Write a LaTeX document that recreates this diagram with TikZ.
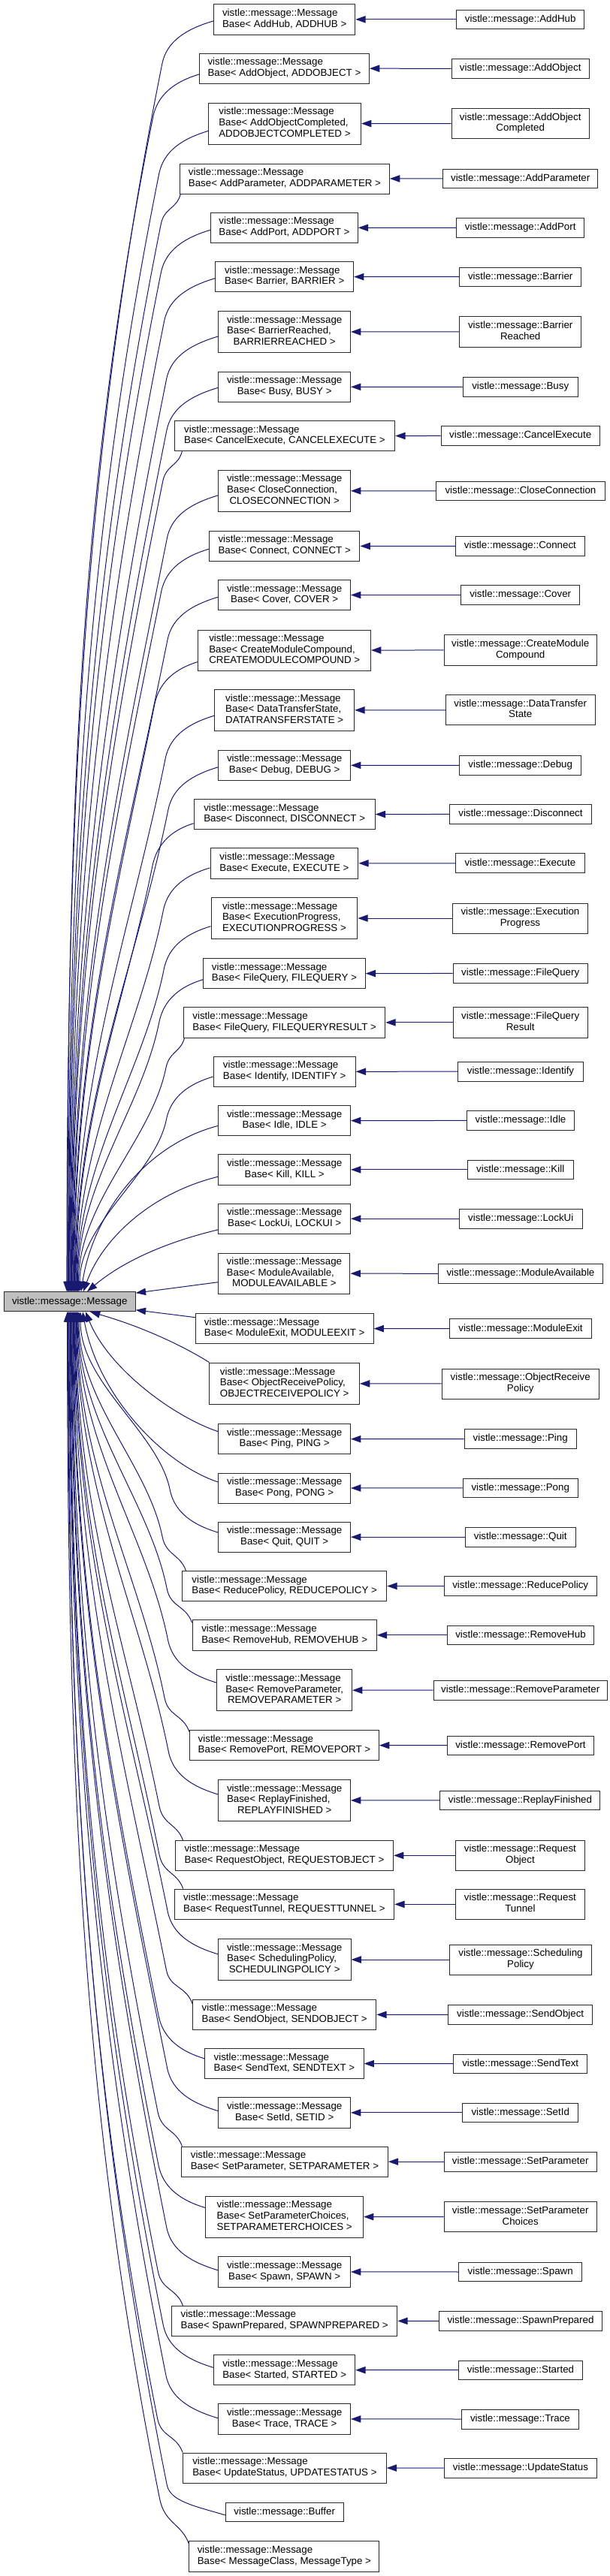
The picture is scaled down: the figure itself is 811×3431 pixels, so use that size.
\documentclass[tikz,border=0pt]{standalone}
\usepackage{fontspec}
\setmainfont{Liberation Sans}
\usetikzlibrary{arrows.meta,calc}
\definecolor{edgecol}{RGB}{25,25,112}
\definecolor{bordercol}{RGB}{40,40,40}
\definecolor{msgfill}{RGB}{191,191,191}
\newcommand\twol[2]{\begin{tabular}{@{}l@{}}#1\\\multicolumn{1}{@{}c@{}}{#2}\end{tabular}}
\newcommand\mbl[1]{\twol{vistle::message::Message}{Base< #1 >}}
\newcommand\mbt[2]{\twol{vistle::message::Message\\Base< #1,}{#2 >}}
\newcommand\bx[7][]{\node[cbox,#1,minimum width={(#4-#3)/1.925*0.75pt},minimum height={(#6-#5)*0.75pt}] (#2) at ({(#3+#4)/3.85},{(#5+#6)/2}) {#7};}
\newcommand\faredge[8]{%
 \draw[inh] let \p1=(#4), \p2=([xshift={(#3-92.75)*0.75pt}]msg.#1),
   \p3=({\x1-#5*(\x1-\x2)},{\y1-(#2)*#6*0.75pt})
 in (\p2) .. controls (\x2,{\y2+0.4*(\y3-\y2)}) and ({\x3-0.064*abs(\y3-\y2)},{\y3-0.32*(\y3-\y2)}) .. (\p3)
 .. controls ({\x3+0.11*#6*0.75pt},{\y3+(#2)*0.55*#6*0.75pt}) and ({\x1-#7*(\x1-\x3)},{\y1-(#2)*#8*(\x1-\x3)}) .. (\p1);}
\newcommand\farA[6]{\faredge{north}{1}{#1}{#2}{#3}{#4}{#5}{#6}}
\newcommand\farB[6]{\faredge{south}{-1}{#1}{#2}{#3}{#4}{#5}{#6}}
\newcommand\nearedge[7]{%
 \draw[inh] let \p1=(#3), \p2=([xshift={(#2-92.75)*0.75pt}]msg.#1) in (\p2) .. controls ({\x2+(#4)*0.75pt},{\y2-(#5)*0.75pt}) and ({\x1+(#6)*0.75pt},{\y1-(#7)*0.75pt}) .. (\p1);}
\begin{document}
\begin{tikzpicture}[x=0.75pt,y=-0.75pt,
  cbox/.style={draw=bordercol,line width=0.75pt,fill=white,inner sep=0pt,font=\fontsize{10}{11}\selectfont,text=black},
  inh/.style={draw=edgecol,line width=0.75pt,{Triangle[length=10pt,width=7pt,fill=edgecol]}-}]
\fill[white] (0,0) rectangle (811,3431);
\useasboundingbox (0,0) rectangle (811,3431);
% base node
\bx[fill=msgfill]{msg}{10}{347}{1720.7}{1746.7}{vistle::message::Message}
% middle column
\bx{mb1}{548}{910}{5.7}{46}{\mbl{AddHub, ADDHUB}}
\bx{mb2}{511}{946}{71}{111}{\mbl{AddObject, ADDOBJECT}}
\bx{mb3}{534}{925}{137}{192}{\mbt{AddObjectCompleted}{ADDOBJECTCOMPLETED}}
\bx{mb4}{461}{998}{218}{258}{\mbl{AddParameter, ADDPARAMETER}}
\bx{mb5}{540}{917}{283.3}{323.3}{\mbl{AddPort, ADDPORT}}
\bx{mb6}{552}{906}{348.7}{388.7}{\mbl{Barrier, BARRIER}}
\bx{mb7}{560}{898}{414.7}{469.3}{\mbt{BarrierReached}{BARRIERREACHED}}
\bx{mb8}{560}{898}{495.3}{535.3}{\mbl{Busy, BUSY}}
\bx{mb9}{447}{1012}{560.7}{600.7}{\mbl{CancelExecute, CANCELEXECUTE}}
\bx{mb10}{560}{898}{626.4}{681}{\mbt{CloseConnection}{CLOSECONNECTION}}
\bx{mb11}{536}{922}{707.3}{747.3}{\mbl{Connect, CONNECT}}
\bx{mb12}{560}{898}{772.3}{812.7}{\mbl{Cover, COVER}}
\bx{mb13}{508}{950}{839}{893.3}{\mbt{CreateModuleCompound}{CREATEMODULECOMPOUND}}
\bx{mb14}{550}{908}{918.7}{973}{\mbt{DataTransferState}{DATATRANSFERSTATE}}
\bx{mb15}{560}{898}{999.3}{1039.3}{\mbl{Debug, DEBUG}}
\bx{mb16}{497}{961}{1064.7}{1104.7}{\mbl{Disconnect, DISCONNECT}}
\bx{mb17}{539}{918}{1129.7}{1170}{\mbl{Execute, EXECUTE}}
\bx{mb18}{541}{916}{1195.7}{1250.3}{\mbt{ExecutionProgress}{EXECUTIONPROGRESS}}
\bx{mb19}{521}{936}{1276.7}{1316.7}{\mbl{FileQuery, FILEQUERY}}
\bx{mb20}{471}{987}{1341.7}{1382}{\mbl{FileQuery, FILEQUERYRESULT}}
\bx{mb21}{547}{911}{1407.3}{1447.3}{\mbl{Identify, IDENTIFY}}
\bx{mb22}{560}{898}{1472.7}{1512.7}{\mbl{Idle, IDLE}}
\bx{mb23}{560}{898}{1537.7}{1578}{\mbl{Kill, KILL}}
\bx{mb24}{560}{898}{1603}{1643.3}{\mbl{LockUi, LOCKUI}}
\bx{mb25}{560}{897}{1669}{1723.3}{\mbt{ModuleAvailable}{MODULEAVAILABLE}}
\bx{mb26}{501}{957}{1749.3}{1789.7}{\mbl{ModuleExit, MODULEEXIT}}
\bx{mb27}{537}{921}{1815}{1870.7}{\mbt{ObjectReceivePolicy}{OBJECTRECEIVEPOLICY}}
\bx{mb28}{560}{898}{1896.7}{1936.7}{\mbl{Ping, PING}}
\bx{mb29}{560}{898}{1962}{2002}{\mbl{Pong, PONG}}
\bx{mb30}{560}{898}{2027}{2067.3}{\mbl{Quit, QUIT}}
\bx{mb31}{467}{991}{2092.3}{2132.7}{\mbl{ReducePolicy, REDUCEPOLICY}}
\bx{mb32}{493}{965}{2157.7}{2198}{\mbl{RemoveHub, REMOVEHUB}}
\bx{mb33}{556}{902}{2223.7}{2278.7}{\mbt{RemoveParameter}{REMOVEPARAMETER}}
\bx{mb34}{486}{971}{2304.3}{2344.7}{\mbl{RemovePort, REMOVEPORT}}
\bx{mb35}{560}{898}{2370.7}{2425.3}{\mbt{ReplayFinished}{REPLAYFINISHED}}
\bx{mb36}{449}{1008}{2451.3}{2491.3}{\mbl{RequestObject, REQUESTOBJECT}}
\bx{mb37}{447}{1010}{2516}{2556.7}{\mbl{RequestTunnel, REQUESTTUNNEL}}
\bx{mb38}{559}{899}{2582.7}{2637.3}{\mbt{SchedulingPolicy}{SCHEDULINGPOLICY}}
\bx{mb39}{494}{964}{2663.3}{2703.3}{\mbl{SendObject, SENDOBJECT}}
\bx{mb40}{525}{932}{2728.3}{2768.7}{\mbl{SendText, SENDTEXT}}
\bx{mb41}{560}{898}{2793.7}{2834}{\mbl{SetId, SETID}}
\bx{mb42}{465}{994}{2859}{2899.3}{\mbl{SetParameter, SETPARAMETER}}
\bx{mb43}{527}{931}{2925}{2980}{\mbt{SetParameterChoices}{SETPARAMETERCHOICES}}
\bx{mb44}{560}{898}{3005.7}{3046}{\mbl{Spawn, SPAWN}}
\bx{mb45}{440}{1018}{3071.3}{3111.3}{\mbl{SpawnPrepared, SPAWNPREPARED}}
\bx{mb46}{548}{910}{3136.7}{3176.7}{\mbl{Started, STARTED}}
\bx{mb47}{560}{898}{3201.7}{3242}{\mbl{Trace, TRACE}}
\bx{mb48}{469}{990}{3267}{3307}{\mbl{UpdateStatus, UPDATESTATUS}}
\bx{mb49}{578}{880}{3333}{3358.7}{vistle::message::Buffer}
\bx{mb50}{485}{972}{3384.7}{3425}{\mbl{MessageClass, MessageType}}
% right column
\bx{r1}{1170}{1497}{13}{38.7}{vistle::message::AddHub}
\bx{r2}{1157}{1510}{78.7}{104.3}{vistle::message::AddObject}
\bx{r3}{1157}{1510}{144.7}{184.7}{\twol{vistle::message::AddObject}{Completed}}
\bx{r4}{1135}{1532}{225}{250.7}{vistle::message::AddParameter}
\bx{r5}{1170}{1497}{290.7}{316}{vistle::message::AddPort}
\bx{r6}{1178}{1489}{356}{381.3}{vistle::message::Barrier}
\bx{r7}{1178}{1489}{421.7}{462}{\twol{vistle::message::Barrier}{Reached}}
\bx{r8}{1186}{1481}{502.7}{528}{vistle::message::Busy}
\bx{r9}{1130}{1537}{567.7}{593}{vistle::message::CancelExecute}
\bx{r10}{1118}{1550}{641.3}{666.7}{vistle::message::CloseConnection}
\bx{r11}{1168}{1498}{714.7}{740}{vistle::message::Connect}
\bx{r12}{1181}{1486}{779.7}{805.3}{vistle::message::Cover}
\bx{r13}{1138}{1529}{845.7}{886}{\twol{vistle::message::CreateModule}{Compound}}
\bx{r14}{1142}{1525}{925.7}{965.7}{\twol{vistle::message::DataTransfer}{State}}
\bx{r15}{1178}{1489}{1006.7}{1032}{vistle::message::Debug}
\bx{r16}{1152}{1516}{1071.7}{1097}{vistle::message::Disconnect}
\bx{r17}{1168}{1498}{1136.7}{1162.7}{vistle::message::Execute}
\bx{r18}{1159}{1507}{1203}{1243}{\twol{vistle::message::Execution}{Progress}}
\bx{r19}{1161}{1506}{1283.7}{1309}{vistle::message::FileQuery}
\bx{r20}{1161}{1506}{1341.7}{1382}{\twol{vistle::message::FileQuery}{Result}}
\bx{r21}{1174}{1494}{1414.3}{1440}{vistle::message::Identify}
\bx{r22}{1196}{1472}{1479.7}{1505}{vistle::message::Idle}
\bx{r23}{1198}{1469}{1545}{1570.7}{vistle::message::Kill}
\bx{r24}{1177}{1492}{1610.3}{1636}{vistle::message::LockUi}
\bx{r25}{1123}{1545}{1683.3}{1709.3}{vistle::message::ModuleAvailable}
\bx{r26}{1153}{1515}{1756.7}{1782.7}{vistle::message::ModuleExit}
\bx{r27}{1132}{1535}{1823}{1863}{\twol{vistle::message::ObjectReceive}{Policy}}
\bx{r28}{1190}{1477}{1903.7}{1929.3}{vistle::message::Ping}
\bx{r29}{1186}{1481}{1969}{1994.7}{vistle::message::Pong}
\bx{r30}{1192}{1475}{2034.3}{2060}{vistle::message::Quit}
\bx{r31}{1138}{1529}{2099.7}{2125.3}{vistle::message::ReducePolicy}
\bx{r32}{1146}{1522}{2165}{2190.7}{vistle::message::RemoveHub}
\bx{r33}{1111}{1556}{2238.3}{2264}{vistle::message::RemoveParameter}
\bx{r34}{1146}{1522}{2312.3}{2337.3}{vistle::message::RemovePort}
\bx{r35}{1128}{1538}{2385}{2410.3}{vistle::message::ReplayFinished}
\bx{r36}{1168}{1498}{2451.3}{2491.3}{\twol{vistle::message::Request}{Object}}
\bx{r37}{1168}{1498}{2516}{2556.7}{\twol{vistle::message::Request}{Tunnel}}
\bx{r38}{1153}{1515}{2590}{2630}{\twol{vistle::message::Scheduling}{Policy}}
\bx{r39}{1149}{1518}{2670.7}{2696}{vistle::message::SendObject}
\bx{r40}{1162}{1505}{2736}{2761.3}{vistle::message::SendText}
\bx{r41}{1185}{1482}{2801}{2826.7}{vistle::message::SetId}
\bx{r42}{1138}{1529}{2866.3}{2892}{vistle::message::SetParameter}
\bx{r43}{1138}{1529}{2932.7}{2972.7}{\twol{vistle::message::SetParameter}{Choices}}
\bx{r44}{1176}{1491}{3013.3}{3038.7}{vistle::message::Spawn}
\bx{r45}{1125}{1543}{3078.7}{3104}{vistle::message::SpawnPrepared}
\bx{r46}{1175}{1493}{3144}{3169.3}{vistle::message::Started}
\bx{r47}{1183}{1483}{3209}{3235}{vistle::message::Trace}
\bx{r48}{1138}{1530}{3274.3}{3300}{vistle::message::UpdateStatus}
% right edges
\foreach \i in {1,...,48} {\draw[inh] (mb\i) -- (r\i);}
% edges above the base node
\farA{89}{[yshift=-1.5pt]mb1.west}{0.35}{57}{0.5}{0.15}
\farA{89.8}{[yshift=-6pt]mb2.west}{0.35}{57}{0.5}{0.15}
\farA{90.6}{[yshift=-7.5pt]mb3.west}{0.35}{57}{0.5}{0.15}
\farA{91.4}{[xshift=1pt]mb4.south west}{0.175}{40}{0.2}{0.77}
\farA{92.2}{[yshift=-2.25pt]mb5.west}{0.35}{57}{0.5}{0.15}
\farA{93}{[yshift=-1.5pt]mb6.west}{0.35}{57}{0.5}{0.15}
\farA{93.8}{[yshift=-4.5pt]mb7.west}{0.35}{57}{0.5}{0.15}
\farA{94.6}{[yshift=-0.75pt]mb8.west}{0.35}{57}{0.5}{0.15}
\farA{95.4}{[xshift=8pt]mb9.south west}{0.175}{40}{0.2}{0.77}
\farA{96.2}{[yshift=-4.5pt]mb10.west}{0.35}{57}{0.5}{0.15}
\farA{97}{[yshift=-3pt]mb11.west}{0.35}{57}{0.5}{0.15}
\farA{97.8}{[yshift=-2pt]mb12.west}{0.35}{57}{0.5}{0.15}
\farA{98.6}{[yshift=-11.5pt]mb13.west}{0.35}{57}{0.5}{0.15}
\farA{99.4}{[yshift=-5.5pt]mb14.west}{0.35}{57}{0.5}{0.15}
\farA{100.2}{[yshift=-1.8pt]mb15.west}{0.35}{57}{0.5}{0.15}
\farA{101}{[yshift=-9pt]mb16.west}{0.35}{57}{0.5}{0.15}
\farA{101.8}{[yshift=-4.5pt]mb17.west}{0.35}{57}{0.5}{0.15}
\farA{102.6}{[yshift=-8pt]mb18.west}{0.35}{57}{0.5}{0.15}
\farA{103.4}{[yshift=-6pt]mb19.west}{0.35}{57}{0.5}{0.15}
\farA{104.5}{[xshift=1pt]mb20.south west}{0.175}{40}{0.2}{0.77}
\farA{106}{[yshift=-5pt]mb21.west}{0.35}{57}{0.5}{0.15}
\nearedge{north}{108}{[yshift=-5pt]mb22.west}{15}{-100}{-100}{26}
\nearedge{north}{111}{[yshift=-7pt]mb23.west}{25}{-70}{-90}{22}
\nearedge{north}{116}{[yshift=-11pt]mb24.west}{45}{-38}{-75}{18}
% direct edges
\draw[inh] (msg) -- (mb25);
\draw[inh] (msg) -- (mb26);
% edges below the base node
\nearedge{south}{120}{mb27.north west}{70}{20}{-35}{-22}
\nearedge{south}{114}{[yshift=7.5pt]mb28.west}{30}{75}{-60}{-20}
\nearedge{south}{110}{[yshift=6pt]mb29.west}{20}{110}{-75}{-25}
\farB{107}{[yshift=4.5pt]mb30.west}{0.35}{57}{0.5}{0.15}
\farB{105}{[xshift=4pt]mb31.north west}{0.22}{45}{0.25}{0.7}
\farB{104}{[yshift=-3pt]mb32.north west}{0.22}{45}{0.25}{0.7}
\farB{103.2}{[yshift=7.5pt]mb33.west}{0.35}{57}{0.5}{0.15}
\farB{102.4}{[yshift=-2pt]mb34.north west}{0.22}{45}{0.25}{0.7}
\farB{101.6}{[yshift=6pt]mb35.west}{0.35}{57}{0.5}{0.15}
\farB{100.8}{[xshift=8pt]mb36.north west}{0.22}{45}{0.25}{0.7}
\farB{100}{[xshift=9pt]mb37.north west}{0.22}{45}{0.25}{0.7}
\farB{99.2}{[yshift=5.5pt]mb38.west}{0.35}{57}{0.5}{0.15}
\farB{98.4}{[yshift=-4.5pt]mb39.north west}{0.22}{45}{0.25}{0.7}
\farB{97.6}{[yshift=5pt]mb40.west}{0.35}{57}{0.5}{0.15}
\farB{96.8}{[yshift=1.7pt]mb41.west}{0.35}{57}{0.5}{0.15}
\farB{96}{[xshift=1pt]mb42.north west}{0.22}{45}{0.25}{0.7}
\farB{95.2}{[yshift=9pt]mb43.west}{0.35}{57}{0.5}{0.15}
\farB{94.4}{[yshift=1.5pt]mb44.west}{0.35}{57}{0.5}{0.15}
\farB{93.6}{[xshift=11.5pt]mb45.north west}{0.22}{45}{0.25}{0.7}
\farB{92.8}{[yshift=2.5pt]mb46.west}{0.35}{57}{0.5}{0.15}
\farB{92}{[yshift=0.75pt]mb47.west}{0.35}{57}{0.5}{0.15}
\farB{91.2}{mb48.north west}{0.22}{45}{0.25}{0.7}
\farB{90.4}{[yshift=-3pt]mb49.west}{0.37}{40}{0.5}{0.15}
\farB{89.6}{[yshift=-3pt]mb50.north west}{0.24}{60}{0.25}{0.7}
\end{tikzpicture}
\end{document}
